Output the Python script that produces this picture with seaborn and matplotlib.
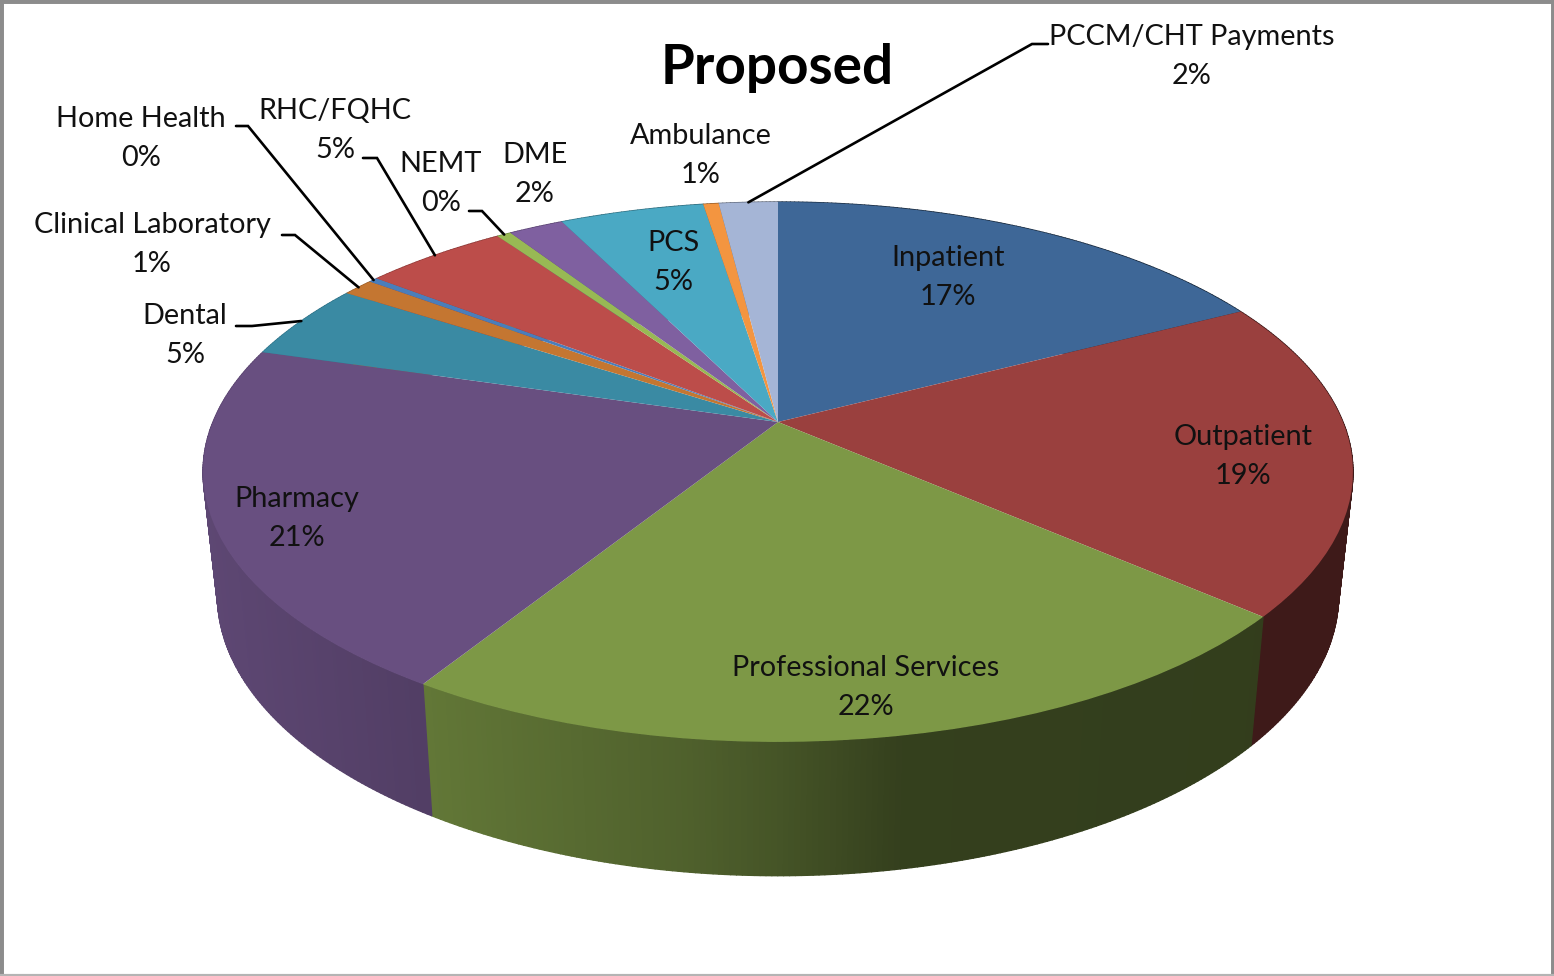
import numpy as np
import matplotlib
matplotlib.use("Agg")
import matplotlib.pyplot as plt
from matplotlib.collections import PolyCollection
from matplotlib.transforms import Transform
import seaborn as sns

categories = ["Inpatient", "Outpatient", "Professional Services", "Pharmacy", "Dental",
              "Clinical Laboratory", "Home Health", "RHC/FQHC", "NEMT", "DME", "PCS",
              "Ambulance", "PCCM/CHT Payments"]
shares = [17.4, 19.0, 22.49, 20.66, 4.6, 1.05, 0.3, 4.82, 0.48, 1.85, 4.85, 0.52, 1.98]
slice_colors = ["#3E6797", "#9A403E", "#7D9846", "#684F80", "#3A8AA3", "#C47631", "#4A7EBB",
                "#BC4D4A", "#98B954", "#7F60A0", "#4AA9C4", "#F39540", "#A5B5D6"]
title = "Proposed"

# where each label block sits, in picture pixels
label_x = [948, 1243, 866, 297, 185, 152, 141, 335, 441, 535, 673, 701, 1192]
label_y = [276, 455, 686, 517, 334, 243, 137, 129, 182, 173, 261, 154, 55]

# leader lines start next to the label, the last point is on the rim of the slice
leaders = {
    "Dental": [(236, 326), (252, 326)],
    "Clinical Laboratory": [(282, 235), (295, 235)],
    "Home Health": [(236, 126), (248, 126)],
    "RHC/FQHC": [(363, 158), (377, 158)],
    "NEMT": [(469, 211), (482, 211)],
    "PCCM/CHT Payments": [(1048, 44), (1032, 44)],
}

# perspective of the pie top, fitted on the picture
CX, CY = 778, 422
A, B, K = 565.0, 260.7, 0.185
# bottom rim of the pie
BOT_SX, BOT_SY, BOT_CY = 0.975, 1.04, 543

# wall shading as a function of picture x
shade_x = [200, 430, 690, 780, 900, 1360]
shade_f = [0.90, 0.78, 0.63, 0.55, 0.42, 0.40]


def project(u, v):
    w = 1 + K * np.asarray(v)
    return A * np.asarray(u) / w, B * np.asarray(v) / w


class PieTop(Transform):
    input_dims = 2
    output_dims = 2
    is_affine = False
    has_inverse = False

    def transform_non_affine(self, values):
        values = np.asarray(values)
        X, Y = project(values[:, 0], values[:, 1])
        return np.column_stack([CX + X, CY - Y])


sns.set_theme(style="white")
plt.rcParams["font.family"] = ["Lato", "DejaVu Sans"]

fig = plt.figure(figsize=(15.54, 9.76), dpi=100, facecolor="white")
ax = fig.add_axes([0, 0, 1, 1])

wedges, _ = ax.pie(shares, colors=sns.color_palette(slice_colors), startangle=90,
                   counterclock=False, radius=1, wedgeprops={"linewidth": 0})
top = PieTop()
for w in wedges:
    w.set_transform(top + ax.transData)
    w.set_zorder(2)

# side wall, thin quads along every slice
quads, quad_colors = [], []
for w, color in zip(wedges, sns.color_palette(slice_colors)):
    th = np.radians(np.linspace(w.theta1, w.theta2, int((w.theta2 - w.theta1) * 2) + 2))
    X, Y = project(np.cos(th), np.sin(th))
    xt, yt = CX + X, CY - Y
    xb, yb = CX + BOT_SX * X, BOT_CY - BOT_SY * Y
    for i in range(len(th) - 1):
        quads.append([(xt[i], yt[i]), (xt[i + 1], yt[i + 1]), (xb[i + 1], yb[i + 1]), (xb[i], yb[i])])
        f = np.interp(xt[i], shade_x, shade_f)
        quad_colors.append(tuple(c * f for c in color))
ax.add_collection(PolyCollection(quads, facecolors=quad_colors, edgecolors=quad_colors,
                                 linewidths=1.0, zorder=1))

ax.set_aspect("auto")
ax.set_xlim(0, 1554)
ax.set_ylim(976, 0)
ax.set_xticks([])
ax.set_yticks([])
ax.set_frame_on(True)
for side, s in ax.spines.items():
    s.set_visible(True)
    s.set_color("#b4b4b4" if side == "bottom" else "#8c8c8c")
    s.set_linewidth(3 if side == "bottom" else 5)

total = sum(shares)
for name, share, x, y in zip(categories, shares, label_x, label_y):
    pct = int(round(100 * share / total))
    ax.text(x, y + 1.5, f"{name}\n{pct}%", ha="center", va="center", fontsize=20.8,
            linespacing=1.59, color="#111111", zorder=4)

for w, name in zip(wedges, categories):
    if name in leaders:
        mid = np.radians((w.theta1 + w.theta2) / 2)
        X, Y = project(np.cos(mid), np.sin(mid))
        pts = leaders[name] + [(CX + X, CY - Y)]
        ax.plot([p[0] for p in pts], [p[1] for p in pts], color="black", lw=1.9, zorder=3,
                solid_joinstyle="miter")

ax.text(777, 68, title, ha="center", va="center", fontsize=39.5, fontweight="bold",
        color="black", zorder=4)

fig.savefig("out.png", dpi=100, facecolor="white")
